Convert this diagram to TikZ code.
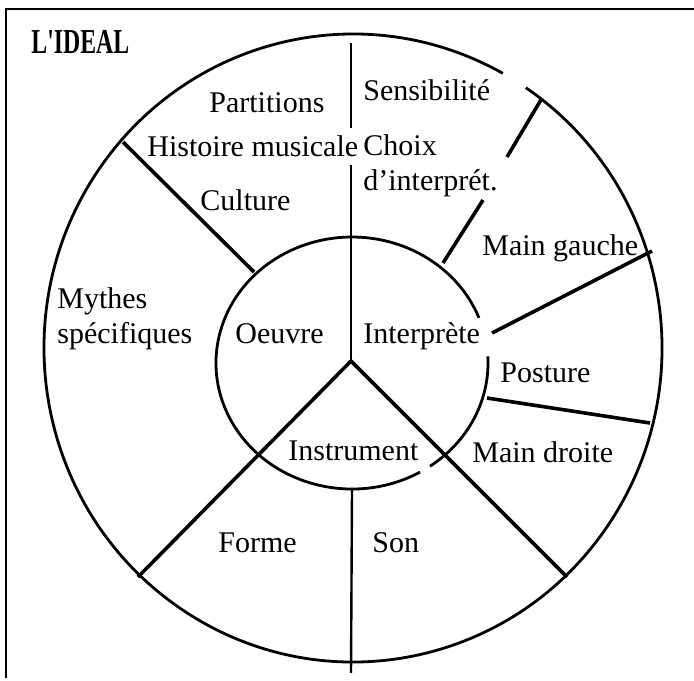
\documentclass[tikz,border=0pt]{standalone}
\usepackage{fontspec}
\setmainfont{Liberation Serif}
\usepackage{graphicx}
\usetikzlibrary{positioning}
\tikzset{
  ring/.style={line width=1.4pt},
  spoke/.style={line width=1.8pt},
  rule/.style={line width=1.2pt},
  frameline/.style={line width=0.9pt},
  lbl/.style={anchor=base west, inner sep=0pt, align=left,
    font=\fontsize{15}{17.5}\selectfont}
}
\begin{document}
\begin{tikzpicture}[x=0.5pt, y=-0.5pt]
  \useasboundingbox (0,0) rectangle (694,680);
  \draw[frameline] (694,9) -- (6,9) -- (6,678);
  \coordinate (c) at (351,361);
  \coordinate (o) at (353,348);
  \coordinate (i) at (352,363);
  % outer and inner ring, with the gaps of the original
  \draw[ring] (o) ++(-56:309 and 314) arc[start angle=-56, end angle=299, x radius=309, y radius=314];
  \draw[ring] (i) ++(-3:136 and 126) arc[start angle=-3, end angle=55, x radius=136, y radius=126];
  \draw[ring] (i) ++(60:136 and 126) arc[start angle=60, end angle=339, x radius=136, y radius=126];
  \draw[rule] (351,43) -- (351,128);
  \draw[rule] (351,165) -- (c);
  \draw[rule] (352,490) -- (351,673);
  \draw[spoke] (c) -- (567,577);
  \draw[spoke] (c) -- (138,577);
  \draw[spoke] (123,142) -- (254,272);
  \draw[spoke] (542,98) -- (507,157);
  \draw[spoke] (483,200) -- (443,263);
  \draw[spoke] (652,251) -- (492,333);
  \draw[spoke] (487,398) -- (650,423);
  \node[lbl] (title) at (31,53) {\fontsize{17.5}{20}\selectfont\bfseries\scalebox{0.68}[1]{L\textquotesingle IDEAL}};
  \node[lbl] (partitions) at (209,112) {Partitions};
  \node[lbl] (sensib) at (363,100) {Sensibilité};
  \node[lbl] (histoire) at (147,156) {Histoire musicale};
  \node[lbl] (choix) at (363,190) {Choix\\d’interprét.};
  \node[lbl] (culture) at (200,210) {Culture};
  \node[lbl] (gauche) at (482,255) {Main gauche};
  \node[lbl] (mythes) at (57,343) {Mythes\\spécifiques};
  \node[lbl] (oeuvre) at (235,343) {Oeuvre};
  \node[lbl] (interp) at (363,343) {Interprète};
  \node[lbl] (posture) at (500,382) {Posture};
  \node[lbl] (instr) at (288,460) {Instrument};
  \node[lbl] (droite) at (472,462) {Main droite};
  \node[lbl] (forme) at (218,552) {Forme};
  \node[lbl] (son) at (372,552) {Son};
\end{tikzpicture}
\end{document}
